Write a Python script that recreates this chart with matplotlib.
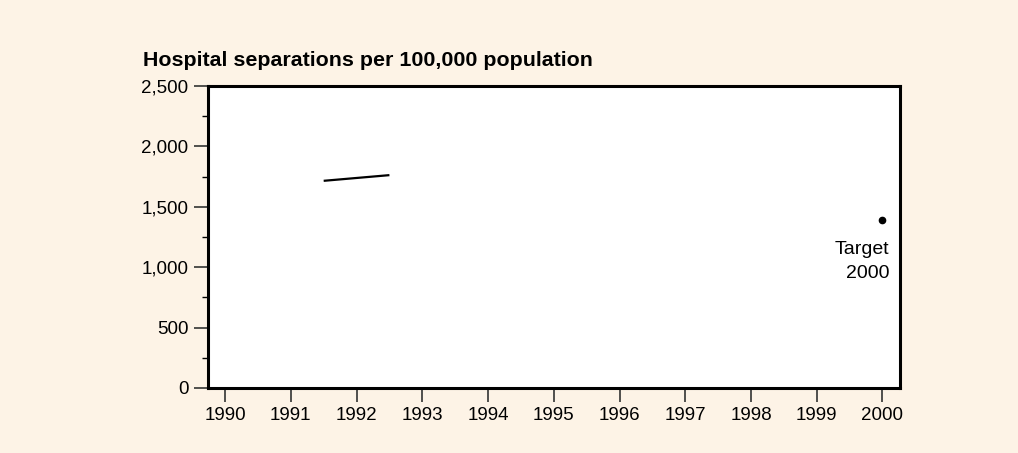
import matplotlib.pyplot as plt
from matplotlib.ticker import FuncFormatter, MultipleLocator

plt.rcParams['font.family'] = ['Liberation Sans', 'DejaVu Sans']

# data
line_years = [1991.5, 1992.5]
line_values = [1715, 1762]
target_year = 2000
target_value = 1390
year_ticks = list(range(1990, 2001))

BG = '#fdf3e6'

fig = plt.figure(figsize=(10.18, 4.53), dpi=100, facecolor=BG)
ax = fig.add_axes([0.2043, 0.1435, 0.680, 0.6667])
ax.set_facecolor('white')

ax.plot(line_years, line_values, color='black', lw=1.6, solid_capstyle='butt')
ax.plot([target_year], [target_value], 'o', color='black', ms=4.5)
ax.annotate('Target\n2000', (target_year, target_value), xytext=(5, -15),
            textcoords='offset points', ha='right', va='top', fontsize=14,
            linespacing=1.55)

ax.set_xlim(1989.74, 2000.27)
ax.set_ylim(0, 2500)
ax.set_xticks(year_ticks)
ax.yaxis.set_major_locator(MultipleLocator(500))
ax.yaxis.set_minor_locator(MultipleLocator(250))
ax.yaxis.set_major_formatter(FuncFormatter(lambda v, p: f'{int(v):,}'))

for s in ax.spines.values():
    s.set_linewidth(2.2)
ax.tick_params(axis='both', labelsize=13.5, direction='out', width=1.2,
               color='#333333', labelcolor='black')
ax.tick_params(axis='y', which='major', length=10, pad=4)
ax.tick_params(axis='y', which='minor', length=4.5, width=1)
ax.tick_params(axis='x', length=10, pad=3.5)

fig.text(143 / 1018, 1 - 60 / 453, 'Hospital separations per 100,000 population',
         fontsize=15.4, fontweight='bold', ha='left', va='center')

fig.savefig('out.png', dpi=100, facecolor=BG)
